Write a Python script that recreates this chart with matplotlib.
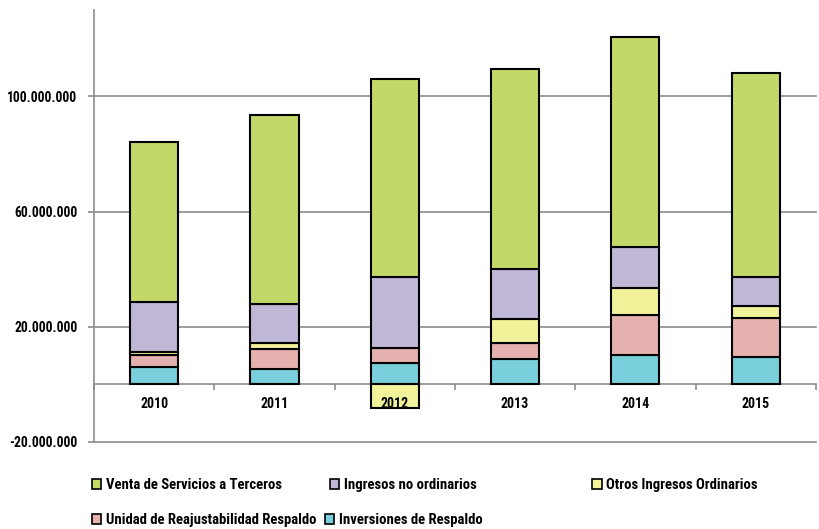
import matplotlib
matplotlib.use("Agg")
import matplotlib.pyplot as plt
import numpy as np
from matplotlib.patches import Patch
from matplotlib.ticker import FixedLocator, FuncFormatter

plt.rcParams['font.family'] = ['Roboto Condensed', 'DejaVu Sans']
plt.rcParams['font.weight'] = 'bold'

years = ['2010', '2011', '2012', '2013', '2014', '2015']

# stacked from the bottom up, values in pesos
inversiones = [6.1e6, 5.4e6, 7.4e6, 8.8e6, 10.3e6, 9.6e6]
unidad_reaj = [4.2e6, 6.9e6, 5.1e6, 5.4e6, 13.7e6, 13.3e6]
otros_ingresos = [1.1e6, 2.1e6, -8.3e6, 8.4e6, 9.6e6, 4.4e6]
ingresos_no_ord = [17.1e6, 13.6e6, 24.9e6, 17.4e6, 14.0e6, 10.0e6]
venta_servicios = [55.6e6, 65.4e6, 68.8e6, 69.7e6, 73.2e6, 71.0e6]

series = [
    ('Inversiones de Respaldo', inversiones, '#79CFDB'),
    ('Unidad de Reajustabilidad Respaldo', unidad_reaj, '#E5B1AF'),
    ('Otros Ingresos Ordinarios', otros_ingresos, '#F2F29A'),
    ('Ingresos no ordinarios', ingresos_no_ord, '#BFB7D5'),
    ('Venta de Servicios a Terceros', venta_servicios, '#C2D969'),
]

fig = plt.figure(figsize=(8.2, 5.29), dpi=100)
ax = fig.add_axes([0.1146, 0.1645, 0.8804, 0.8165])

x = np.arange(len(years))
pos_base = np.zeros(len(years))
neg_base = np.zeros(len(years))
for name, vals, color in series:
    vals = np.array(vals)
    bottom = np.where(vals >= 0, pos_base, neg_base)
    ax.bar(x, vals, 0.4, bottom=bottom, color=color, edgecolor='black',
           linewidth=1.5, zorder=2)
    pos_base += np.where(vals >= 0, vals, 0)
    neg_base += np.where(vals < 0, vals, 0)

grid_gray = '#8C8C8C'
ax.set_xlim(-0.5, 5.5)
ax.set_ylim(-20e6, 130e6)
ax.yaxis.set_major_locator(FixedLocator([-20e6, 20e6, 60e6, 100e6]))
ax.yaxis.set_major_formatter(FuncFormatter(lambda v, p: f"{v:,.0f}".replace(',', '.')))
for yv in [-20e6, 20e6, 60e6, 100e6]:
    ax.axhline(yv, color=grid_gray, linewidth=1.2, zorder=1, clip_on=False)

ax.set_xticks(x)
ax.set_xticklabels(years)
ax.set_xticks(np.arange(-0.5, 6.0, 1.0), minor=True)
ax.tick_params(axis='x', which='major', length=0, pad=9, labelsize=10)
ax.tick_params(axis='x', which='minor', length=4, width=1.2, color=grid_gray, direction='out')
ax.tick_params(axis='y', length=4, width=1.2, color=grid_gray, pad=8, labelsize=9.8)
# year labels sit on top of the negative bar
ax.xaxis.set_zorder(3)

for side in ['top', 'right']:
    ax.spines[side].set_visible(False)
ax.spines['bottom'].set_position(('data', 0))
ax.spines['bottom'].set_color(grid_gray)
ax.spines['bottom'].set_linewidth(1.2)
ax.spines['bottom'].set_zorder(1.5)
ax.spines['left'].set_color(grid_gray)
ax.spines['left'].set_linewidth(1.2)

# legend entries laid out in two rows below the plot
legend_spots = [
    ('Venta de Servicios a Terceros', '#C2D969', 0.112, 0.083),
    ('Ingresos no ordinarios', '#BFB7D5', 0.402, 0.083),
    ('Otros Ingresos Ordinarios', '#F2F29A', 0.722, 0.083),
    ('Unidad de Reajustabilidad Respaldo', '#E5B1AF', 0.112, 0.017),
    ('Inversiones de Respaldo', '#79CFDB', 0.396, 0.017),
]
for label, color, lx, ly in legend_spots:
    fig.legend(handles=[Patch(facecolor=color, edgecolor='black', linewidth=1.2, label=label)],
               loc='center left', bbox_to_anchor=(lx, ly), frameon=False,
               handlelength=0.65, handleheight=0.65, handletextpad=0.3,
               borderpad=0, borderaxespad=0, prop={'size': 10.6, 'weight': 'bold'})

fig.savefig('out.png', dpi=100)
